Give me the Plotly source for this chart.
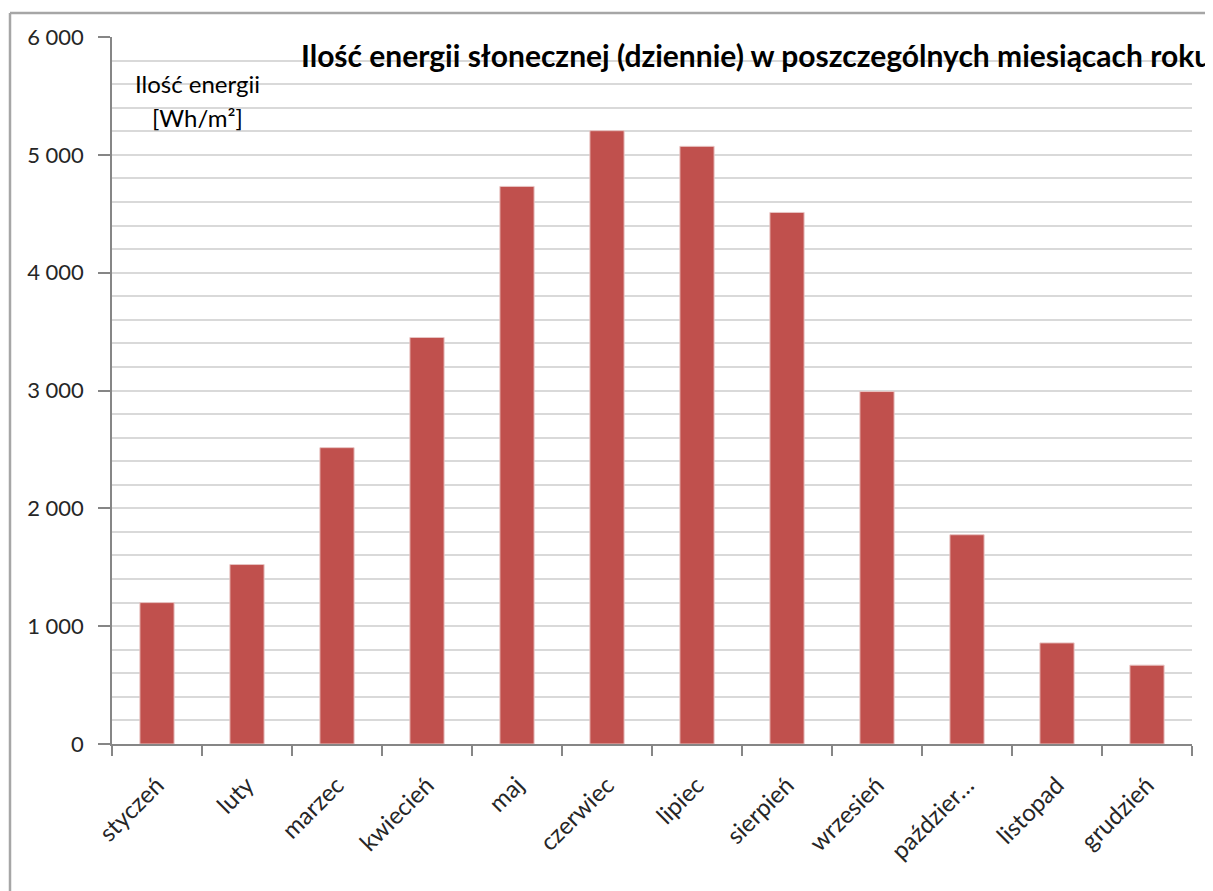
import plotly.graph_objects as go

months = ["styczeń", "luty", "marzec", "kwiecień", "maj", "czerwiec",
          "lipiec", "sierpień", "wrzesień", "paździer…", "listopad", "grudzień"]
energy = [1200, 1523, 2515, 3450, 4732, 5205, 5072, 4511, 2991, 1776, 858, 669]

y_tick_vals = [0, 1000, 2000, 3000, 4000, 5000, 6000]
y_tick_text = ["0", "1 000", "2 000", "3 000", "4 000", "5 000", "6 000"]

title_text = "Ilość energii słonecznej (dziennie) w poszczególnych miesiącach roku"
ylabel_lines = ["Ilość energii", "[Wh/m²]"]

FONT = "Lato, 'Open Sans', sans-serif"
AXIS_COLOR = "#868686"
GRID_COLOR = "#d9d9d9"

# page has an 8px body margin, so the figure starts at (8, 8)
OFF = 8
L, T, PW, PH = 112 - OFF, 37 - OFF, 1080, 707
W, H = 1213 - OFF, 891 - OFF


def px(xpix):
    return (xpix - OFF - L) / PW


def py(ypix):
    return (T + PH - (ypix - OFF)) / PH


fig = go.Figure()
fig.add_trace(go.Bar(
    x=months, y=energy,
    marker=dict(color="#C0504D", line=dict(color="#e8c4c3", width=1)),
    hoverinfo="x+y",
))

fig.update_layout(
    width=W, height=H,
    margin=dict(l=L, r=W - L - PW, t=T, b=H - T - PH),
    paper_bgcolor="white", plot_bgcolor="white",
    bargap=0.62,
    showlegend=False,
    font=dict(family=FONT, size=18, color="#262626"),
    xaxis=dict(
        type="category",
        showline=True, linecolor=AXIS_COLOR, linewidth=1.5,
        ticks="outside", ticklen=10, tickcolor=AXIS_COLOR, tickwidth=1.5,
        tickson="boundaries",
        tickangle=-45,
        ticklabelstandoff=16,
        tickfont=dict(family=FONT, size=24, color="#262626"),
        showgrid=False, zeroline=False,
    ),
    yaxis=dict(
        range=[0, 6000],
        tickvals=y_tick_vals, ticktext=y_tick_text,
        showline=True, linecolor=AXIS_COLOR, linewidth=1.5,
        ticks="outside", ticklen=12, tickcolor=AXIS_COLOR, tickwidth=1.5,
        ticklabelstandoff=10,
        tickfont=dict(family=FONT, size=22, color="#262626"),
        showgrid=True, gridcolor=GRID_COLOR, gridwidth=1.5,
        minor=dict(dtick=200, showgrid=True, gridcolor=GRID_COLOR, gridwidth=1.5, ticks=""),
        zeroline=False,
    ),
)

# chart title
fig.add_annotation(
    text="<b>" + title_text + "</b>",
    xref="paper", yref="paper",
    x=px(299), y=py(55),
    xanchor="left", yanchor="middle",
    showarrow=False,
    font=dict(family=FONT, size=30, color="#000000"),
)

# y-axis label (two lines)
for i, line in enumerate(ylabel_lines):
    fig.add_annotation(
        text=line,
        xref="paper", yref="paper",
        x=px(197), y=py(83 + i * 34),
        xanchor="center", yanchor="middle",
        showarrow=False,
        font=dict(family=FONT, size=24, color="#000000"),
    )

# outer chart border (left and top edges; the rest lies outside the picture)
border = dict(color="#a6a6a6", width=2.5)
fig.add_shape(type="line", xref="paper", yref="paper",
              x0=px(10), x1=px(10), y0=py(960), y1=py(13), line=border, layer="below")
fig.add_shape(type="line", xref="paper", yref="paper",
              x0=px(10), x1=px(1300), y0=py(13), y1=py(13), line=border, layer="below")

fig.write_html("out.html")
